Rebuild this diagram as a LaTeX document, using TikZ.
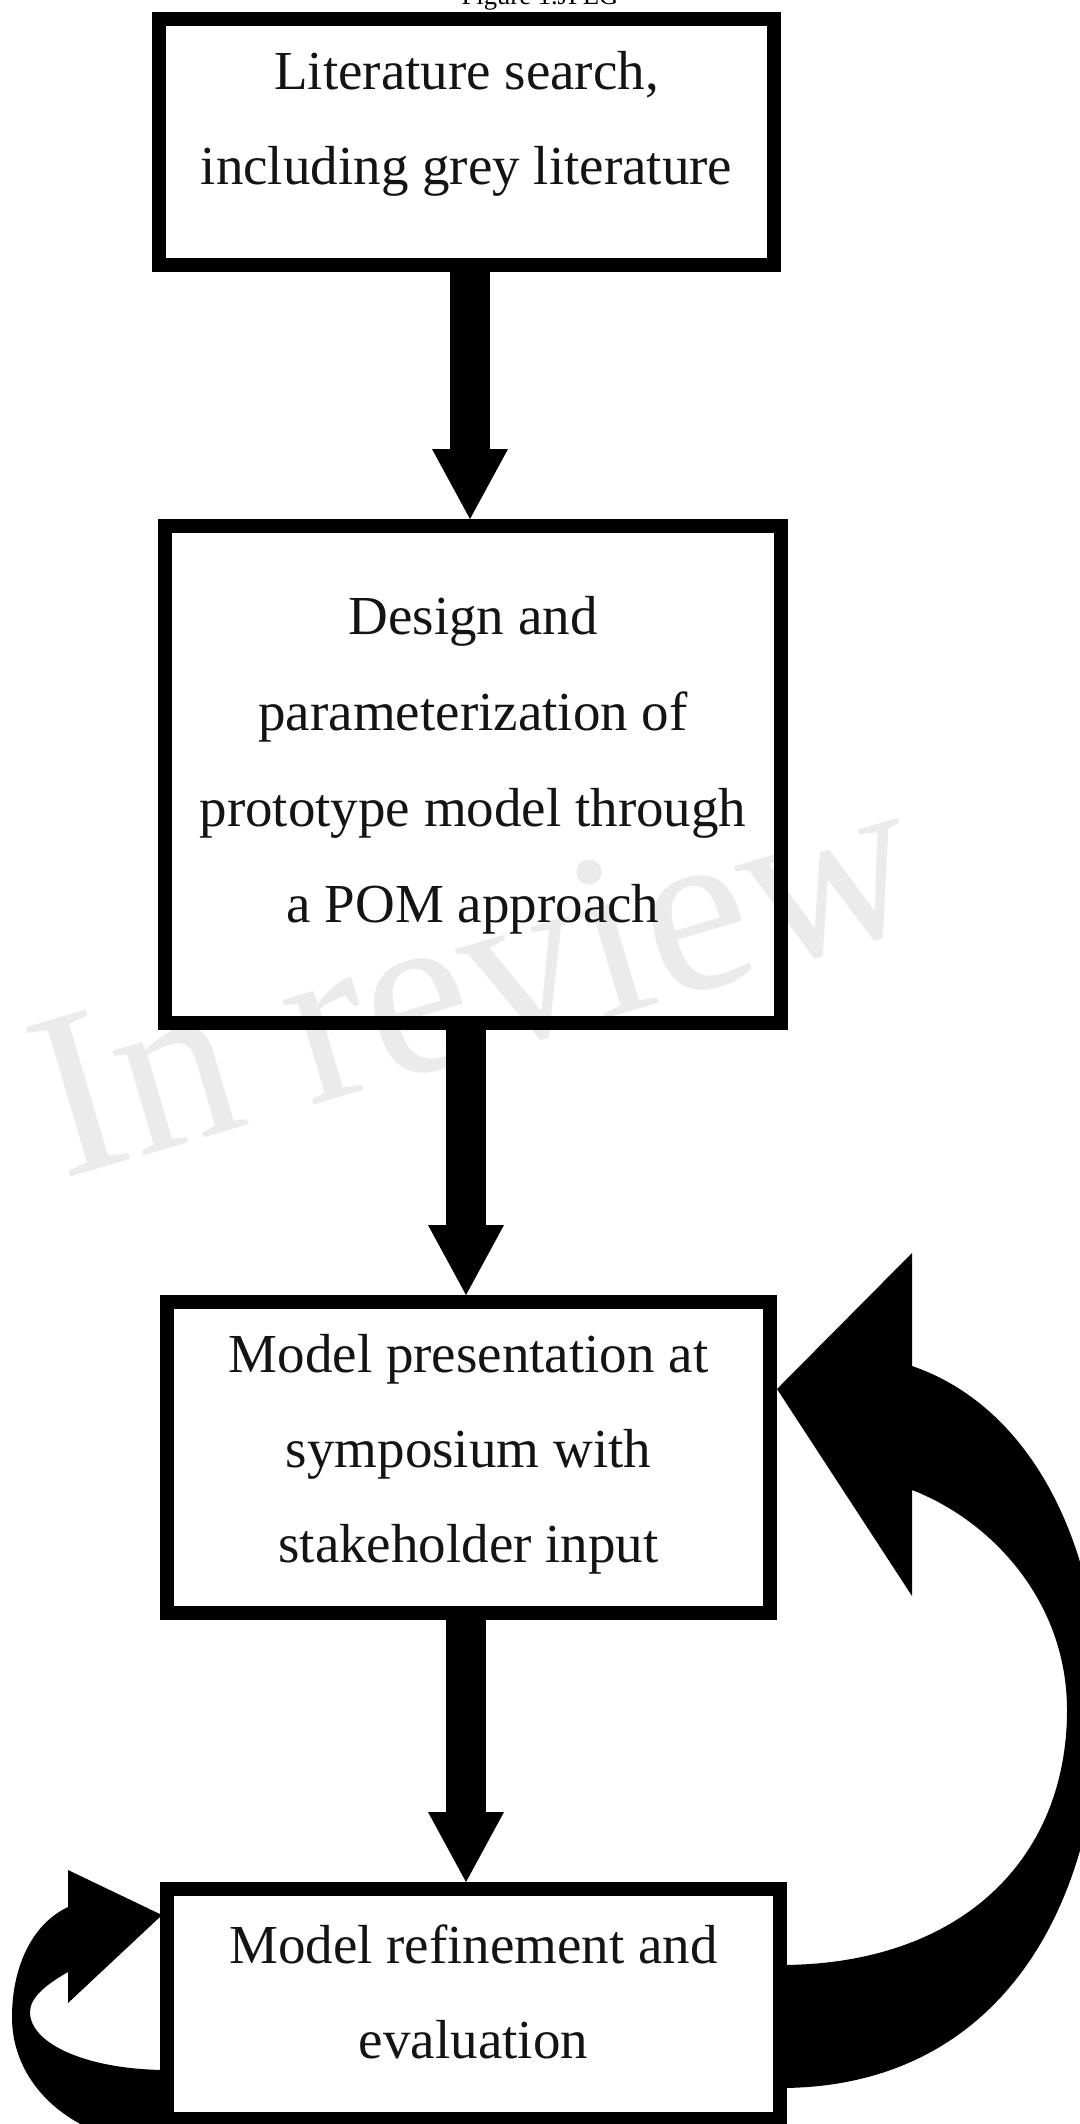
\documentclass[tikz,border=0pt]{standalone}
\usepackage{fontspec}
\setmainfont{Liberation Serif}
\usetikzlibrary{arrows.meta}
\begin{document}
\begin{tikzpicture}[x=0.5pt,y=-0.5pt,
  flowbox/.style={draw=black, line width=7pt, rectangle, inner sep=0pt},
  boxtext/.style={anchor=base, inner sep=0pt, font=\fontsize{27.5pt}{33pt}\selectfont, text=black!92},
  flowarrow/.style={line width=20pt, draw=black, -{Triangle[width=38pt,length=35pt,line width=0pt]}},
  fatarrow/.style={fill=black, draw=none},
  wm/.style={text=black!8, font=\fontsize{119pt}{123pt}\selectfont, anchor=base west, rotate=16.5, inner sep=0pt}]

\path[use as bounding box] (0,0) rectangle (1080,2124);
\clip (0,0) rectangle (1080,2124);

% caption (cut off at top)
\node[anchor=base, inner sep=0pt, font=\fontsize{13.3pt}{16pt}\selectfont] (cap) at (540,5) {Figure 1.JPEG};

% watermark
\node[wm] (wmk) at (62,1180) {In review};

% boxes
\node[flowbox, minimum width=307.5pt, minimum height=123pt] (b1) at (466.5,142) {};
\node[flowbox, minimum width=308pt, minimum height=248.5pt] (b2) at (473,774.5) {};
\node[flowbox, minimum width=301.5pt, minimum height=155.5pt] (b3) at (468.5,1457.5) {};
\node[flowbox, minimum width=306.5pt, minimum height=115pt] (b4) at (473.5,2004) {};

% texts
\node[boxtext] (t1a) at (466.5,90) {Literature search,};
\node[boxtext] (t1b) at (466.5,185) {including grey literature};

\node[boxtext] (t2a) at (473,634) {Design and};
\node[boxtext] (t2b) at (473,730) {parameterization of};
\node[boxtext] (t2c) at (473,826) {prototype model through};
\node[boxtext] (t2d) at (473,922) {a POM approach};

\node[boxtext] (t3a) at (468.5,1372) {Model presentation at};
\node[boxtext] (t3b) at (468.5,1467) {symposium with};
\node[boxtext] (t3c) at (468.5,1562) {stakeholder input};

\node[boxtext] (t4a) at (473.5,1963) {Model refinement and};
\node[boxtext] (t4b) at (473.5,2058) {evaluation};

% straight arrows
\draw[flowarrow] ([xshift=1.75pt]b1.south) -- ([xshift=1.75pt]b1.south |- b2.north);
\draw[flowarrow] ([xshift=-3.5pt]b2.south) -- ([xshift=-3.5pt]b2.south |- b3.north);
\draw[flowarrow] ([xshift=-1.25pt]b3.south) -- ([xshift=-1.25pt]b3.south |- b4.north);

% big curved arrow from box 4 back to box 3
\coordinate (rtip) at (777,1389);
\fill[fatarrow] (rtip) -- (912,1253) -- (912,1366)
  .. controls (1040,1410) and (1100,1560) .. (1100,1700)
  .. controls (1100,1905) and (1000,2088) .. (780,2088)
  -- (780,1965)
  .. controls (960,1965) and (1067,1860) .. (1067,1710)
  .. controls (1067,1600) and (990,1520) .. (912,1490)
  -- (912,1596) -- cycle;

% small curved arrow on box 4 left
\coordinate (ltip) at (162,1915);
\fill[fatarrow] (ltip) -- (68,1870) -- (68,1907)
  .. controls (30,1925) and (12,1970) .. (12,2017)
  .. controls (12,2090) and (80,2145) .. (168,2145)
  -- (168,2070)
  .. controls (90,2070) and (30,2045) .. (30,2012)
  .. controls (30,1998) and (45,1985) .. (68,1972)
  -- (68,2003) -- cycle;
\end{tikzpicture}
\end{document}
